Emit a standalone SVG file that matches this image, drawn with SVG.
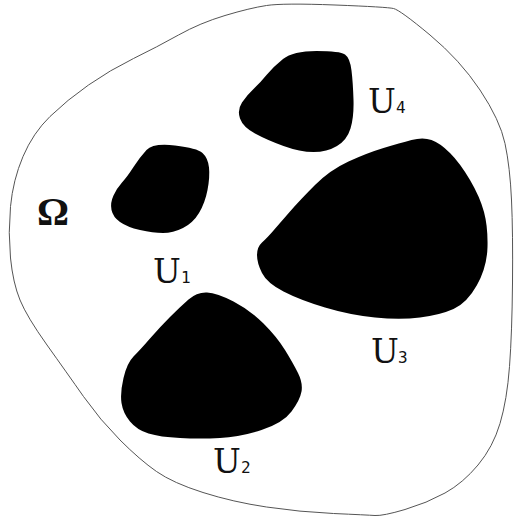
<svg xmlns="http://www.w3.org/2000/svg" width="514" height="521" viewBox="0 0 514 521">
<style>
.blob{fill:#000;stroke:none}
.outer{fill:#fff;stroke:#555;stroke-width:1}
.U{font-family:"DejaVu Serif",serif;font-size:33px;fill:#111}
.sub{font-family:"DejaVu Sans Mono",monospace;font-size:16px;fill:#111}
.om{font-family:"Liberation Serif",serif;font-weight:bold;font-size:40px;fill:#111}
</style>
<rect width="514" height="521" fill="#fff"/>
<g id="omega">
<path class="outer" d="M266.5,5.5 Q283,3 335,5 Q387,7 393.5,8.5 Q400,10 430,35 Q460,60 480,90 Q500,120 505,143.5 Q510,167 511.5,200 Q513,233 512.5,283 Q512,333 509.5,366.5 Q507,400 500,423.5 Q493,447 478,465 Q463,483 445,493 Q427,503 405,509.5 Q383,516 375,515.5 Q367,515 333.5,513.5 Q300,512 266.5,507 Q233,502 203,492.5 Q173,483 156.5,471.5 Q140,460 120,440 Q100,420 83.5,396.5 Q67,373 47,345 Q27,317 20,300 Q13,283 10.5,258 Q8,233 10.5,206.5 Q13,180 23,156.5 Q33,133 50,116.5 Q67,100 88.5,85 Q110,70 133.5,58.5 Q157,47 178.5,35 Q200,23 225,15.5 Q250,8 266.5,5.5 Z"/>
<text class="om" x="37" y="225">Ω</text>
</g>
<g id="U4">
<path class="blob" d="M283,59 Q293,51 316.5,51 Q340,51 345,54.5 Q350,58 351.5,70.5 Q353,83 353.5,100 Q354,117 350.5,128.5 Q347,140 337,146 Q327,152 313.5,152 Q300,152 283.5,146 Q267,140 255,133.5 Q243,127 240,118.5 Q237,110 242,102.5 Q247,95 253.5,89 Q260,83 266.5,75 Q273,67 283,59 Z"/>
<text class="U" x="368" y="113">U</text><text class="sub" x="396" y="113">4</text>
</g>
<g id="U1">
<path class="blob" d="M146.5,150 Q153,143 175,145.5 Q197,148 202.5,153 Q208,158 209,167.5 Q210,177 207.5,190 Q205,203 199,213 Q193,223 183,228 Q173,233 163,233 Q153,233 140,230 Q127,227 120,222 Q113,217 111.5,210 Q110,203 113.5,195.5 Q117,188 122,182.5 Q127,177 133.5,167 Q140,157 146.5,150 Z"/>
<text class="U" x="153" y="283">U</text><text class="sub" x="181" y="283">1</text>
</g>
<g id="U3">
<path class="blob" d="M411.5,140 Q423,137 431.5,140 Q440,143 450,153 Q460,163 470,180 Q480,197 484,212 Q488,227 487.5,247 Q487,267 477,285 Q467,303 453.5,309 Q440,315 420,317.5 Q400,320 375,317.5 Q350,315 325,307.5 Q300,300 283.5,291.5 Q267,283 262,273 Q257,263 257,255 Q257,247 262,242.5 Q267,238 273.5,230.5 Q280,223 290,211.5 Q300,200 315,185 Q330,170 348.5,161.5 Q367,153 383.5,148 Q400,143 411.5,140 Z"/>
<text class="U" x="371" y="363">U</text><text class="sub" x="398" y="363">3</text>
</g>
<g id="U2">
<path class="blob" d="M188.5,299.5 Q197,292 207,292.5 Q217,293 233.5,301.5 Q250,310 263.5,323.5 Q277,337 285,350 Q293,363 298,373 Q303,383 301.5,391.5 Q300,400 291.5,411.5 Q283,423 261.5,430 Q240,437 220,438 Q200,439 180,438 Q160,437 148.5,433.5 Q137,430 130,421.5 Q123,413 121.5,403 Q120,393 123.5,378 Q127,363 133.5,356.5 Q140,350 150,338.5 Q160,327 170,317 Q180,307 188.5,299.5 Z"/>
<text class="U" x="213" y="473">U</text><text class="sub" x="241" y="473">2</text>
</g>
<g id="connectors"/>
</svg>
